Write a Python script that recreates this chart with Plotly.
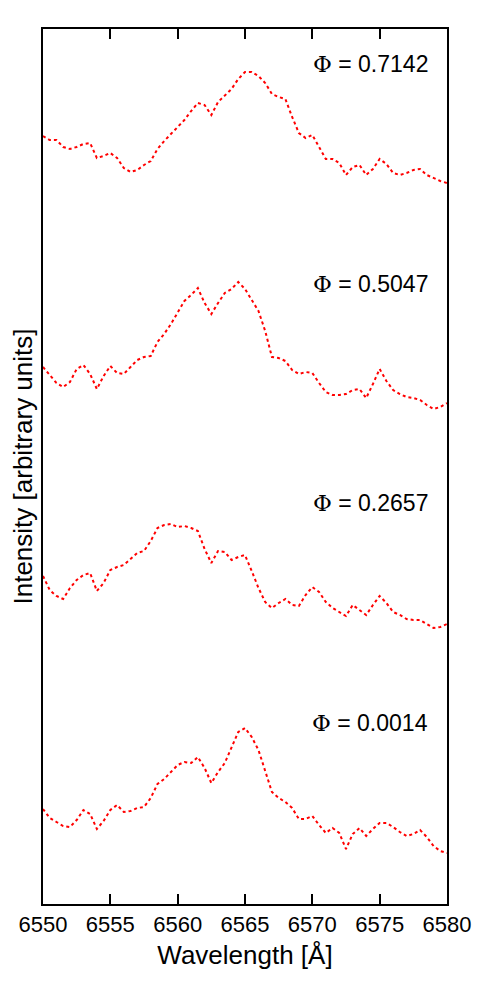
import plotly.graph_objects as go

# wavelength grid, 0.5 A steps
wavelength = [6550 + 0.5 * k for k in range(61)]

# intensities (arbitrary units, spectra already offset)
phi_0_7142 = [768, 764, 764, 757, 755, 757, 760, 761, 746, 748,
              751, 746, 736, 732, 734, 739, 743, 755, 763, 770,
              777, 784, 793, 801, 799, 789, 802, 809, 815, 825,
              832, 832, 828, 821, 810, 807, 805, 787, 771, 766,
              769, 757, 745, 745, 741, 729, 737, 739, 729, 735,
              745, 740, 731, 729, 731, 734, 735, 729, 726, 723, 721]
phi_0_5047 = [537, 529, 521, 517, 522, 535, 539, 530, 515, 528,
              538, 531, 530, 537, 544, 547, 548, 562, 570, 580,
              592, 603, 609, 616, 601, 590, 601, 611, 615, 622,
              615, 604, 593, 573, 547, 546, 543, 534, 530, 532,
              531, 521, 512, 509, 509, 510, 514, 515, 506, 520,
              535, 523, 514, 510, 507, 506, 504, 499, 495, 497, 501]
phi_0_2657 = [328, 314, 308, 305, 316, 324, 329, 331, 313, 321,
              334, 337, 339, 345, 351, 353, 363, 376, 379, 380,
              377, 378, 376, 373, 355, 341, 353, 352, 344, 347,
              349, 333, 316, 302, 296, 301, 305, 299, 298, 309,
              317, 312, 302, 296, 292, 288, 299, 294, 289, 299,
              308, 301, 292, 289, 285, 284, 284, 280, 276, 277, 280]
phi_0_0014 = [95, 86, 82, 78, 77, 84, 94, 90, 75, 83,
              94, 99, 92, 93, 96, 97, 106, 120, 125, 132,
              139, 142, 141, 147, 136, 121, 132, 141, 157, 172,
              176, 167, 154, 134, 112, 106, 102, 96, 85, 85,
              88, 79, 71, 76, 71, 55, 70, 76, 68, 75,
              81, 81, 77, 72, 68, 70, 74, 67, 58, 53, 51]

spectra = [phi_0_7142, phi_0_5047, phi_0_2657, phi_0_0014]
phases = ["0.7142", "0.5047", "0.2657", "0.0014"]
label_y = [840, 620, 401, 181]

fig = go.Figure()
for flux in spectra:
    fig.add_trace(go.Scatter(
        x=wavelength, y=flux, mode="lines",
        line=dict(color="#ff0000", width=2, dash="3px,3px"),
        showlegend=False, hoverinfo="skip"
    ))

for phase, ypos in zip(phases, label_y):
    fig.add_annotation(
        x=6578.75, y=ypos, xref="x", yref="y",
        text="<span style='font-family:DejaVu Serif'>Φ</span> = " + phase,
        showarrow=False, xanchor="right", yanchor="middle",
        font=dict(size=23, color="black")
    )

# page body adds an 8px margin, so the figure is a bit smaller than the window
fig.update_layout(
    width=483, height=973,
    margin=dict(l=35, r=44, t=21, b=77),
    plot_bgcolor="white", paper_bgcolor="white",
    font=dict(family="Liberation Sans, Arial, sans-serif", size=22, color="black"),
)
fig.update_xaxes(
    range=[6550, 6580], tickvals=[6550, 6555, 6560, 6565, 6570, 6575, 6580],
    ticks="inside", ticklen=10, tickwidth=1.5, tickcolor="black",
    showline=True, linewidth=1.5, linecolor="black", mirror="ticks",
    showgrid=False, zeroline=False, automargin=False,
    title=dict(text="Wavelength [Å]", standoff=10),
)
fig.update_yaxes(
    range=[0, 875], showticklabels=False, ticks="",
    showline=True, linewidth=1.5, linecolor="black", mirror=True,
    showgrid=False, zeroline=False, automargin=False,
    title=dict(text="Intensity [arbitrary units]", standoff=12),
)

fig.write_html("out.html")
